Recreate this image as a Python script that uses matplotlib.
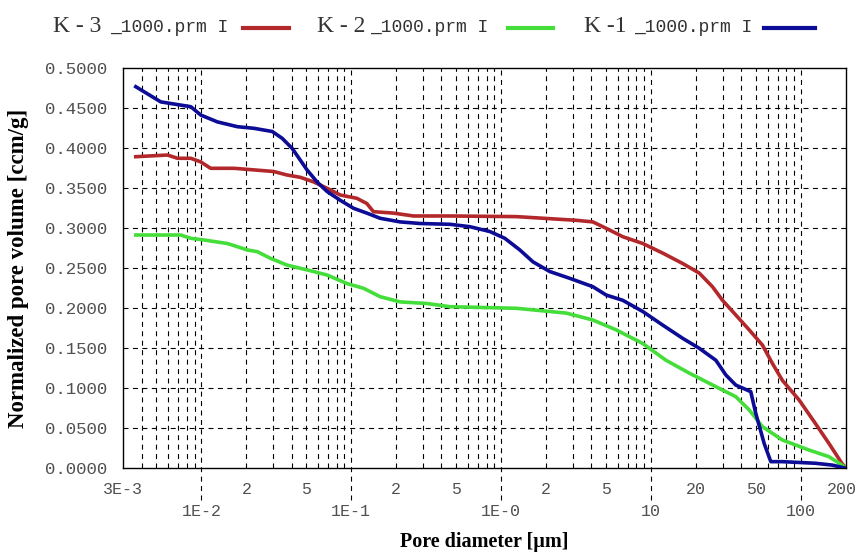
import numpy as np
import matplotlib
matplotlib.use("Agg")
import matplotlib.pyplot as plt
import matplotlib.transforms as mtransforms
from matplotlib.lines import Line2D

# ---------------- data ----------------
k1_d = [3.65e-3, 5.36e-3, 8.5e-3, 9.9e-3, 1.28e-2, 1.74e-2, 2.24e-2, 2.97e-2, 3.46e-2,
        4.03e-2, 4.58e-2, 5.07e-2, 5.91e-2, 6.9e-2, 8.45e-2, 0.1036, 0.127, 0.156, 0.212,
        0.288, 0.456, 0.619, 0.841, 1.058, 1.332, 1.633, 2.109, 2.865, 4.094, 5.02, 6.48,
        8.81, 11.97, 16.26, 21.0, 27.1, 31.6, 36.8, 46.3, 50.0, 56.9, 63.0, 75.2, 125.0,
        162.0, 200.0]
k1_v = [0.4770, 0.4580, 0.4520, 0.4416, 0.4330, 0.4270, 0.4250, 0.4210, 0.4125,
        0.4000, 0.3850, 0.3730, 0.3580, 0.3460, 0.3350, 0.3250, 0.3190, 0.3125, 0.3080,
        0.3060, 0.3050, 0.3020, 0.2960, 0.2875, 0.2730, 0.2580, 0.2460, 0.2375, 0.2270,
        0.2166, 0.2100, 0.1960, 0.1790, 0.1625, 0.1500, 0.1350, 0.1166, 0.1040, 0.0958,
        0.0687, 0.0310, 0.0083, 0.0083, 0.0063, 0.0040, 0.0000]

k3_d = [3.65e-3, 5.94e-3, 6.93e-3, 8.5e-3, 9.9e-3, 1.153e-2, 1.65e-2, 2.24e-2, 3.04e-2,
        3.73e-2, 4.58e-2, 5.61e-2, 6.9e-2, 8.45e-2, 0.109, 0.127, 0.1406, 0.191, 0.260,
        0.456, 1.266, 3.17, 4.09, 5.02, 6.48, 8.81, 11.97, 16.26, 21.0, 25.7, 30.0, 36.8,
        45.2, 55.4, 64.6, 75.2, 97.3, 125.0, 154.0, 188.0, 200.0]
k3_v = [0.3895, 0.3916, 0.3875, 0.3875, 0.3830, 0.3750, 0.3750, 0.3730, 0.3710,
        0.3666, 0.3637, 0.3580, 0.3500, 0.3416, 0.3375, 0.3310, 0.3208, 0.3190, 0.3154,
        0.3154, 0.3146, 0.3100, 0.3080, 0.3000, 0.2895, 0.2810, 0.2690, 0.2560, 0.2440,
        0.2270, 0.2100, 0.1916, 0.1730, 0.1540, 0.1310, 0.1100, 0.0854, 0.0560, 0.0310,
        0.0060, 0.0000]

k2_d = [3.65e-3, 7.28e-3, 8.5e-3, 1.04e-2, 1.49e-2, 1.74e-2, 2.02e-2, 2.36e-2, 2.89e-2,
        3.73e-2, 5.07e-2, 6.9e-2, 9.35e-2, 0.1208, 0.156, 0.212, 0.319, 0.456, 1.266,
        2.72, 4.09, 5.86, 8.81, 12.6, 18.0, 27.1, 36.8, 45.2, 55.4, 75.2, 113.0, 154.0,
        188.0, 200.0]
k2_v = [0.2916, 0.2916, 0.2875, 0.2854, 0.2810, 0.2770, 0.2730, 0.2708, 0.2625,
        0.2540, 0.2480, 0.2416, 0.2310, 0.2250, 0.2145, 0.2080, 0.2060, 0.2020, 0.2000,
        0.1940, 0.1854, 0.1730, 0.1560, 0.1350, 0.1190, 0.1020, 0.0895, 0.0730, 0.0520,
        0.0354, 0.0229, 0.0145, 0.0040, 0.0000]

series_labels = ["K - 3", "K - 2", "K -1"]
series_suffix = "_1000.prm I"
series_colors = ["#b3282b", "#44dd3a", "#0c0c96"]

y_ticks = [0.00, 0.05, 0.10, 0.15, 0.20, 0.25, 0.30, 0.35, 0.40, 0.45, 0.50]
row1_ticks = [3e-3, 2e-2, 5e-2, 0.2, 0.5, 2, 5, 20, 50, 200]
row1_labels = ["3E-3", "2", "5", "2", "5", "2", "5", "20", "50", "200"]
decade_ticks = [1e-2, 1e-1, 1e0, 1e1, 1e2]
decade_labels = ["1E-2", "1E-1", "1E-0", "10", "100"]

# ---------------- figure ----------------
W, H = 858.0, 555.0
fig = plt.figure(figsize=(W / 100, H / 100), dpi=100)
ax = fig.add_axes([123 / W, (H - 468.3) / H, 723 / W, 400 / H])

ax.set_xscale("log")
ax.set_xlim(3e-3, 200)
ax.set_ylim(0, 0.5)

grid_kw = dict(color="black", lw=0.8, linestyle=(0, (4.5, 4)))

# vertical grid at every 1..9 x 10^n
for e in range(-3, 3):
    for k in range(1, 10):
        v = k * 10.0 ** e
        if 3e-3 < v < 200:
            if k == 1:
                ax.vlines(v, -0.08, 1, transform=ax.get_xaxis_transform(),
                          clip_on=False, zorder=1, **grid_kw)
            else:
                ax.vlines(v, 0, 1, transform=ax.get_xaxis_transform(),
                          zorder=1, **grid_kw)
for yv in y_ticks[1:-1]:
    ax.axhline(yv, zorder=1, **grid_kw)

# curves
ax.plot(k3_d, k3_v, color=series_colors[0], lw=2.6, zorder=3)
ax.plot(k2_d, k2_v, color=series_colors[1], lw=2.6, zorder=3)
ax.plot(k1_d, k1_v, color=series_colors[2], lw=2.6, zorder=4)

# ticks
mono = "Liberation Mono"
tick_color = "#505050"
ax.set_yticks(y_ticks)
ax.set_yticklabels([f"{v:.4f}" for v in y_ticks], family=mono, fontsize=12.5, color=tick_color)
ax.tick_params(axis="y", length=0, pad=11)

ax.xaxis.set_major_locator(matplotlib.ticker.FixedLocator(decade_ticks))
ax.xaxis.set_major_formatter(matplotlib.ticker.FixedFormatter(decade_labels))
ax.xaxis.set_minor_locator(matplotlib.ticker.FixedLocator(row1_ticks))
ax.xaxis.set_minor_formatter(matplotlib.ticker.FixedFormatter(row1_labels))
ax.tick_params(axis="x", which="major", length=0, pad=26, labelsize=12, labelcolor=tick_color)
ax.tick_params(axis="x", which="minor", length=0, pad=10, labelsize=12, labelcolor=tick_color)
for lab in ax.get_xticklabels(which="both"):
    lab.set_family(mono)
# nudge the last (right-edge) label a little inward so it is not cut off
minor_labels = ax.xaxis.get_minorticklabels()
shift = mtransforms.ScaledTranslation(-4 / 100, 0, fig.dpi_scale_trans)
minor_labels[-1].set_transform(minor_labels[-1].get_transform() + shift)

for s in ax.spines.values():
    s.set_linewidth(1.0)
    s.set_color("black")

ax.set_ylabel("Normalized pore volume [ccm/g]", family="Liberation Serif",
              fontweight="bold", fontsize=16.5)
ax.set_xlabel("Pore diameter [\u00b5m]", family="Liberation Serif",
              fontweight="bold", fontsize=14.5)
ax.yaxis.set_label_coords(-0.13, 0.5)
ax.xaxis.set_label_coords(0.5, -0.158)

# legend (header row)
leg_x = [53, 317, 584]
suf_x = [110, 370, 634]
line_x = [(243, 289), (508, 553), (764, 815)]
for i in range(3):
    fig.text(leg_x[i] / W, 1 - 32 / H, series_labels[i], family="Liberation Serif",
             fontsize=17, color="#333333", va="baseline", ha="left")
    fig.text(suf_x[i] / W, 1 - 32 / H, series_suffix, family=mono,
             fontsize=13, color="#333333", va="baseline", ha="left")
    fig.add_artist(Line2D([line_x[i][0] / W, line_x[i][1] / W], [1 - 27.5 / H] * 2,
                          color=series_colors[i], lw=3.0, transform=fig.transFigure))

fig.savefig("out.png", dpi=100)
